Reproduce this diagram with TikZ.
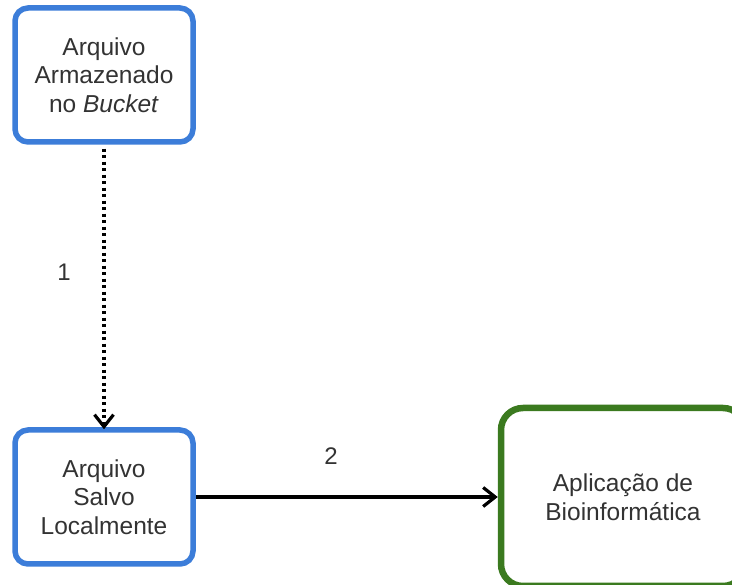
\documentclass[tikz,border=0pt]{standalone}
\usepackage{fontspec}
\setmainfont{Liberation Sans}
\usetikzlibrary{arrows.meta}
\definecolor{bblue}{HTML}{3C7DD9}
\definecolor{bgreen}{HTML}{3B7A1F}
\definecolor{txt}{HTML}{333333}
\tikzset{
  box/.style={draw=bblue, line width=5.5pt, rounded corners=13pt, fill=white,
    minimum width=178pt, minimum height=134pt, align=center, text=txt,
    font=\fontsize{24.5pt}{28.5pt}\selectfont},
  gbox/.style={box, draw=bgreen, line width=6.5pt, rounded corners=22pt, minimum width=244pt, minimum height=178pt},
  conn/.style={line width=3.2pt, -{Straight Barb[length=12pt,width=19pt,line width=3.2pt]}},
  lbl/.style={text=txt, font=\fontsize{24pt}{28pt}\selectfont}
}
\begin{document}
\begin{tikzpicture}[x=1pt,y=-1pt]
\useasboundingbox (0,0) rectangle (732,585);
\begin{scope}
\clip (0,0) rectangle (732,585);
\node[box] (a) at (104,75) {Arquivo\\Armazenado\\no \textit{Bucket}};
\node[box] (b) at (104,497) {Arquivo\\Salvo\\Localmente};
\node[gbox] (c) at (623,497) {Aplicação de\\Bioinformática};
\draw[conn, dash pattern=on 3pt off 3.5pt] (a.south) ++(0,4) -- ([yshift=-2pt]b.north);
\draw[conn] (b.east) -- (c.west);
\end{scope}
\node[lbl] (l1) at (64,272) {1};
\node[lbl] (l2) at (331,456) {2};
\end{tikzpicture}
\end{document}
